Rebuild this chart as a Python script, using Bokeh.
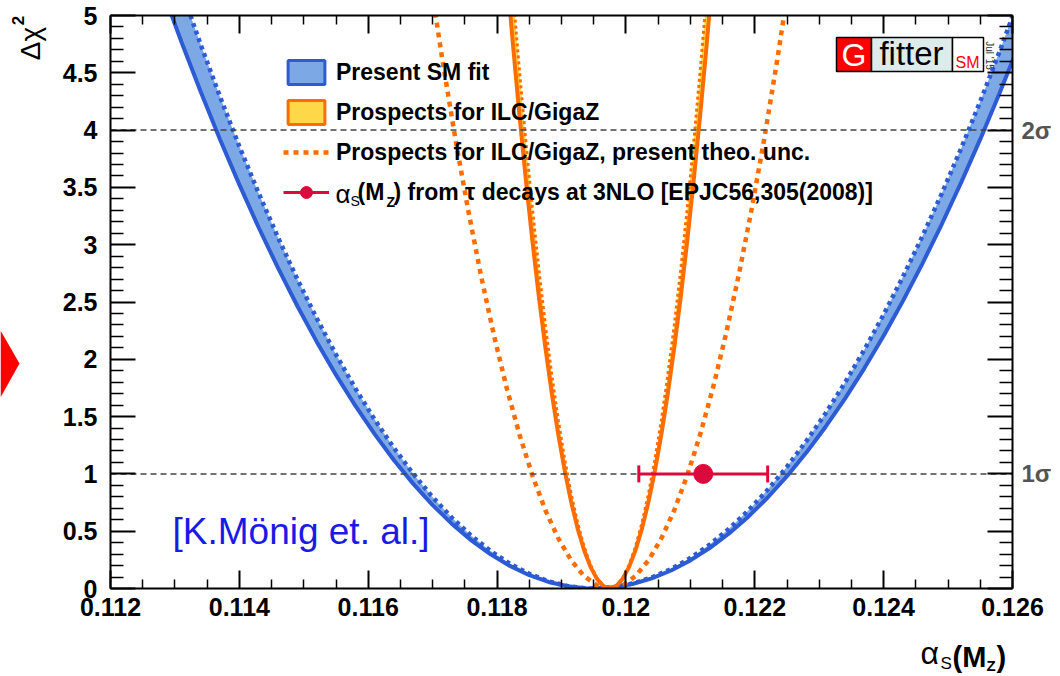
import math
from bokeh.plotting import figure
from bokeh.layouts import column
from bokeh.models import (Range1d, LinearAxis, FixedTicker, Span, Label, Legend, LegendItem,
                          ColumnDataSource, BoxAnnotation, PolyAnnotation, Whisker, TeeHead)
from bokeh.embed import file_html
from bokeh.resources import INLINE

# ---------------- data ----------------
# Present SM fit: outer (solid) and inner (dotted) delta chi^2 curves
blue_x = [0.1128, 0.1131, 0.1134, 0.1137, 0.1140, 0.1143, 0.1146, 0.1149, 0.1152, 0.1155,
          0.1158, 0.1161, 0.1164, 0.1167, 0.1170, 0.1173, 0.1176, 0.1179, 0.1182, 0.1185,
          0.1188, 0.1191, 0.1194, 0.1195, 0.1198, 0.1201, 0.1204, 0.1207, 0.1210, 0.1213,
          0.1216, 0.1219, 0.1222, 0.1225, 0.1228, 0.1231, 0.1234, 0.1237, 0.1240, 0.1243,
          0.1246, 0.1249, 0.1252, 0.1255, 0.1258, 0.1261, 0.1262]
blue_solid = [5.229, 4.771, 4.334, 3.918, 3.524, 3.150, 2.797, 2.465, 2.154, 1.864,
              1.595, 1.347, 1.119, 0.913, 0.728, 0.564, 0.420, 0.298, 0.197, 0.116,
              0.057, 0.019, 0.001, 0.0, 0.010, 0.039, 0.088, 0.157, 0.245, 0.353,
              0.480, 0.627, 0.794, 0.980, 1.186, 1.412, 1.657, 1.921, 2.206, 2.510,
              2.833, 3.176, 3.539, 3.921, 4.323, 4.745, 4.889]
blue_dotted = [5.726, 5.224, 4.746, 4.291, 3.858, 3.449, 3.063, 2.699, 2.358, 2.041,
               1.746, 1.474, 1.226, 1.000, 0.797, 0.617, 0.460, 0.327, 0.216, 0.128,
               0.063, 0.020, 0.001, 0.0, 0.011, 0.043, 0.096, 0.170, 0.266, 0.383,
               0.521, 0.680, 0.861, 1.063, 1.286, 1.530, 1.796, 2.083, 2.391, 2.721,
               3.072, 3.444, 3.837, 4.251, 4.687, 5.144, 5.301]

# Prospects for ILC/GigaZ: outer (solid) and inner (dotted) curves
ilc_x = [0.11805, 0.11815, 0.11825, 0.11835, 0.11845, 0.11855, 0.11865, 0.11875, 0.11885,
         0.11895, 0.11905, 0.11915, 0.11925, 0.11935, 0.11945, 0.11955, 0.11965, 0.11975,
         0.11985, 0.11995, 0.12005, 0.12015, 0.12025, 0.12035, 0.12045, 0.12055, 0.12065,
         0.12075, 0.12085, 0.12095, 0.12105, 0.12115, 0.12125, 0.12135, 0.12145]
ilc_outer = [6.070, 5.377, 4.726, 4.117, 3.550, 3.025, 2.541, 2.100, 1.701, 1.344, 1.029,
             0.756, 0.525, 0.336, 0.189, 0.084, 0.021, 0.0, 0.021, 0.084, 0.189, 0.336,
             0.525, 0.756, 1.029, 1.344, 1.701, 2.100, 2.541, 3.025, 3.550, 4.117, 4.726,
             5.377, 6.070]
ilc_inner = [6.635, 5.877, 5.165, 4.500, 3.880, 3.306, 2.778, 2.296, 1.860, 1.469, 1.125,
             0.826, 0.574, 0.367, 0.207, 0.092, 0.023, 0.0, 0.023, 0.092, 0.207, 0.367,
             0.574, 0.826, 1.125, 1.469, 1.860, 2.296, 2.778, 3.306, 3.880, 4.500, 5.165,
             5.877, 6.635]

# Prospects for ILC/GigaZ with present theoretical uncertainty
theo_x = [0.11675, 0.11695, 0.11715, 0.11735, 0.11755, 0.11775, 0.11795, 0.11815, 0.11835,
          0.11855, 0.11875, 0.11895, 0.11915, 0.11935, 0.11955, 0.11975, 0.11995, 0.12015,
          0.12035, 0.12055, 0.12075, 0.12095, 0.12115, 0.12135, 0.12155, 0.12175, 0.12195,
          0.12215, 0.12235, 0.12255, 0.12275]
theo_y = [6.147, 5.355, 4.617, 3.934, 3.306, 2.732, 2.213, 1.748, 1.339, 0.984, 0.683,
          0.437, 0.246, 0.109, 0.027, 0.0, 0.027, 0.109, 0.246, 0.437, 0.683, 0.984,
          1.339, 1.748, 2.213, 2.732, 3.306, 3.934, 4.617, 5.355, 6.147]

# alpha_s(MZ) from tau decays
tau_value = [0.1212]
tau_err = [0.0010]
tau_dchi2 = [1.0]

# axes
x_ticks = [0.112, 0.114, 0.116, 0.118, 0.120, 0.122, 0.124, 0.126]
x_tick_labels = ["0.112", "0.114", "0.116", "0.118", "0.12", "0.122", "0.124", "0.126"]
x_minor = [0.1125, 0.113, 0.1135, 0.1145, 0.115, 0.1155, 0.1165, 0.117, 0.1175, 0.1185,
           0.119, 0.1195, 0.1205, 0.121, 0.1215, 0.1225, 0.123, 0.1235, 0.1245, 0.125, 0.1255]
y_ticks = [0, 0.5, 1, 1.5, 2, 2.5, 3, 3.5, 4, 4.5, 5]
y_tick_labels = ["0", "0.5", "1", "1.5", "2", "2.5", "3", "3.5", "4", "4.5", "5"]
y_minor = [i / 10 for i in range(51) if i % 5]
sigma_levels = [1, 4]
sigma_labels = ["1σ", "2σ"]

# ---------------- styling ----------------
FONT = "Liberation Sans"
BLUE = "#2C5BD3"
BLUE_FILL = "#7CA8E5"
ORANGE = "#FF6C00"
YELLOW = "#FFD84A"
RED = "#DC0A3C"
NAN = float("nan")
W, H = 1060, 676

# frame in picture pixels: left 110, right 1012, top 15, bottom 588
FL, FR, FT, FB = 110, 1012, 15, 588

p = figure(width=W, height=H, output_backend="svg", toolbar_location=None,
           x_range=Range1d(0.112, 0.126), y_range=Range1d(0, 5),
           x_axis_type=None, y_axis_type=None,
           min_border_left=FL, min_border_right=W - FR, min_border_top=FT,
           min_border_bottom=H - FB)
p.outline_line_color = None
p.background_fill_color = "white"
p.border_fill_color = "white"


def make_axis(ticks, minor, overrides, tin, tmin, size, standoff, color="black", style="bold"):
    return LinearAxis(ticker=FixedTicker(ticks=ticks, minor_ticks=minor),
                      major_tick_in=tin, major_tick_out=0,
                      minor_tick_in=tmin, minor_tick_out=0,
                      axis_line_width=2, axis_line_color="black",
                      major_tick_line_width=2, major_tick_line_color="black",
                      minor_tick_line_width=1.5, minor_tick_line_color="black",
                      major_label_text_font=FONT, major_label_text_font_style=style,
                      major_label_text_color=color, major_label_text_font_size=size,
                      major_label_standoff=standoff, major_label_overrides=overrides)

p.add_layout(make_axis(x_ticks, x_minor, dict(zip(x_ticks, x_tick_labels)), 18, 9, "25px", 9), "below")
p.add_layout(make_axis(x_ticks, x_minor, {t: "" for t in x_ticks}, 18, 9, "0px", 0), "above")
p.add_layout(make_axis(y_ticks, y_minor, dict(zip(y_ticks, y_tick_labels)), 25, 13, "25px", 13), "left")
right_over = {t: "" for t in y_ticks}
right_over.update(dict(zip(sigma_levels, sigma_labels)))
p.add_layout(make_axis(y_ticks, y_minor, right_over, 25, 13, "24px", 9, color="#555555"), "right")

# ---------------- glyphs ----------------
src_blue = ColumnDataSource(dict(x=blue_x, solid=blue_solid, dotted=blue_dotted))
p.varea(x="x", y1="solid", y2="dotted", source=src_blue, fill_color=BLUE_FILL)

for lev in sigma_levels:
    p.add_layout(Span(location=lev, dimension="width", line_color="#444444",
                      line_width=1.5, line_dash="6 4", level="glyph"))

p.line("x", "solid", source=src_blue, line_color=BLUE, line_width=4)
p.line("x", "dotted", source=src_blue, line_color=BLUE, line_width=4.5, line_dash="4 4")

src_theo = ColumnDataSource(dict(x=theo_x, y=theo_y))
r_theo = p.line("x", "y", source=src_theo, line_color=ORANGE, line_width=4.5, line_dash="5 5")

src_ilc = ColumnDataSource(dict(x=ilc_x, outer=ilc_outer, inner=ilc_inner))
p.varea(x="x", y1="outer", y2="inner", source=src_ilc, fill_color=YELLOW)
p.line("x", "outer", source=src_ilc, line_color=ORANGE, line_width=4)
p.line("x", "inner", source=src_ilc, line_color=ORANGE, line_width=3, line_dash="3 3")

src_tau = ColumnDataSource(dict(x=tau_value, y=tau_dchi2,
                                lo=[v - e for v, e in zip(tau_value, tau_err)],
                                hi=[v + e for v, e in zip(tau_value, tau_err)]))
p.add_layout(Whisker(base="y", lower="lo", upper="hi", dimension="width", source=src_tau,
                     line_color=RED, line_width=3, level="glyph",
                     lower_head=TeeHead(size=17, line_color=RED, line_width=3),
                     upper_head=TeeHead(size=17, line_color=RED, line_width=3)))
r_pt = p.scatter("x", "y", source=src_tau, size=19, fill_color=RED, line_color=RED)

# legend proxies (nothing visible in the frame)
leg_sm = p.quad(left=[NAN], right=[NAN], top=[NAN], bottom=[NAN],
                fill_color=BLUE_FILL, line_color=BLUE, line_width=3)
leg_ilc = p.quad(left=[NAN], right=[NAN], top=[NAN], bottom=[NAN],
                 fill_color=YELLOW, line_color=ORANGE, line_width=3)
leg_bar = p.segment(x0=[NAN], y0=[NAN], x1=[NAN], y1=[NAN], line_color=RED, line_width=3)

legend = Legend(items=[
    LegendItem(label="Present SM fit", renderers=[leg_sm]),
    LegendItem(label="Prospects for ILC/GigaZ", renderers=[leg_ilc]),
    LegendItem(label="Prospects for ILC/GigaZ, present theo. unc.", renderers=[r_theo]),
    LegendItem(label=" ", renderers=[leg_bar, r_pt]),
], location=(173, 381), orientation="vertical",
    glyph_width=46, glyph_height=30, label_height=30, spacing=10, padding=0, margin=0,
    label_standoff=7, label_text_font=FONT, label_text_font_style="bold",
    label_text_font_size="23px", label_text_color="black",
    border_line_color=None, background_fill_alpha=0, inactive_fill_alpha=0)
p.add_layout(legend)

# ---------------- transparent overlay for the free texts (picture pixel coords) ----------------
ov = figure(width=W, height=H, output_backend="svg", toolbar_location=None,
            x_range=Range1d(0, W), y_range=Range1d(H, 0),
            x_axis_type=None, y_axis_type=None,
            min_border_left=0, min_border_right=0, min_border_top=0, min_border_bottom=0)
ov.outline_line_color = None
ov.background_fill_alpha = 0
ov.border_fill_alpha = 0
ov.margin = (-H, 0, 0, 0)
for fig in (p, ov):
    try:
        fig.frame_align = False
    except AttributeError:
        pass


def lab(px, py, text, size, style="normal", color="black", align="left", angle=0.0):
    ov.add_layout(Label(x=px, y=py, text=text, text_font=FONT, text_font_size=size,
                        text_font_style=style, text_color=color, text_align=align,
                        text_baseline="middle", angle=angle))

# legend entry 4 with subscripts
lab(335, 193, "α", "26px")
lab(350, 200, "S", "14px")
lab(357, 191, "(M", "23px", "bold")
lab(386, 201, "Z", "14px", "bold")
lab(393, 191, ") from τ decays at 3NLO [EPJC56,305(2008)]", "23px", "bold")

# axis titles
lab(30, 43, "Δχ", "28px", angle=math.pi / 2, align="center")
lab(17, 20, "2", "17px", "bold", angle=math.pi / 2, align="center")
lab(920, 652, "α", "32px")
lab(940, 663, "S", "17px")
lab(952, 656, "(M", "29px", "bold")
lab(986, 665, "Z", "15px", "bold")
lab(996, 656, ")", "29px", "bold")

# author note
lab(172, 531, "[K.Mönig et. al.]", "37px", color="#1A1AE6")

# Gfitter logo
for left, right, col in [(836, 871, "#FF0000"), (871, 952, "#DDEBEB"), (952, 983, "white")]:
    ov.add_layout(BoxAnnotation(left=left, right=right, top=37, bottom=71,
                                fill_color=col, fill_alpha=1, line_color="black",
                                line_width=1.5, line_alpha=1))
lab(853.5, 54, "G", "32px", color="white", align="center")
lab(911, 53, "fitter", "33px", color="black", align="center")
lab(967, 62, "SM", "16px", color="#FF0000", align="center")
lab(989, 55, "Jul '15", "10px", color="#333333", align="center", angle=-math.pi / 2)

# red slide arrow at the left edge
ov.add_layout(PolyAnnotation(xs=[0, 19, 0], ys=[330, 363, 397],
                             fill_color="#FF0000", fill_alpha=1, line_color=None))

page = column(p, ov, spacing=0)
open("out.html", "w").write(file_html(page, INLINE))
